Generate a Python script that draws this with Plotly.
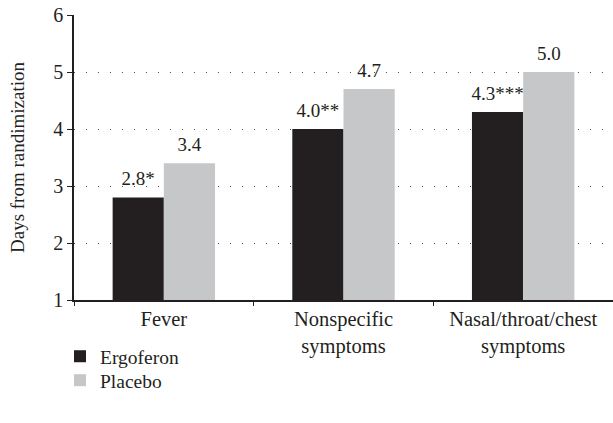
import plotly.graph_objects as go

categories = ["Fever", "Nonspecific<br>symptoms", "Nasal/throat/chest<br>symptoms"]
ergoferon = [2.8, 4.0, 4.3]
placebo = [3.4, 4.7, 5.0]
ergo_labels = ["2.8*", "4.0**", "4.3***"]
placebo_labels = ["3.4", "4.7", "5.0"]
yticks = [1, 2, 3, 4, 5, 6]

font = "Liberation Serif, Times New Roman, serif"
ink = "#231f20"

fig = go.Figure()
fig.add_trace(go.Bar(x=categories, y=ergoferon, name="Ergoferon",
                     marker=dict(color=ink, line=dict(width=0)),
                     offsetgroup="e", hoverinfo="skip", legend="legend"))
fig.add_trace(go.Bar(x=categories, y=placebo, name="Placebo",
                     marker=dict(color="#c6c7c9", line=dict(width=0)),
                     offsetgroup="p", hoverinfo="skip", legend="legend2"))
for vals, labels, grp in [(ergoferon, ergo_labels, "e"), (placebo, placebo_labels, "p")]:
    fig.add_trace(go.Scatter(x=categories, y=vals, mode="markers+text", text=labels,
                             textposition="top center", offsetgroup=grp,
                             marker=dict(size=10, opacity=0), showlegend=False,
                             cliponaxis=False, hoverinfo="skip",
                             textfont=dict(size=19, color=ink, family=font)))

leg = dict(x=-0.026, xanchor="left", yanchor="top", orientation="v",
           font=dict(size=19.5), itemwidth=30, bgcolor="rgba(0,0,0,0)")
fig.update_layout(
    width=613, height=423,
    margin=dict(l=74, r=0, t=15, b=123),
    paper_bgcolor="white", plot_bgcolor="white",
    barmode="group", bargap=0.43, bargroupgap=0,
    scattermode="group", scattergap=0.43,
    font=dict(family=font, size=20, color=ink),
    legend=dict(leg, y=-0.13),
    legend2=dict(leg, y=-0.214),
    showlegend=True,
)
fig.update_xaxes(showline=True, linecolor=ink, linewidth=1.5,
                 ticks="outside", tickson="boundaries", ticklen=4,
                 tickcolor=ink, showgrid=False, tickfont=dict(size=20.5),
                 automargin=False)
fig.update_yaxes(range=[1, 6], tickvals=yticks, showline=True, linecolor=ink,
                 linewidth=1.5, ticks="outside", ticklen=5, tickcolor=ink,
                 showgrid=True, gridcolor="#555555", griddash="1px,11px", gridwidth=1,
                 zeroline=False, tickfont=dict(size=20), automargin=False,
                 title=dict(text="Days from randimization", font=dict(size=19), standoff=24))

fig.write_html("out.html", config={"displayModeBar": False},
               post_script="document.body.style.margin='0';")
